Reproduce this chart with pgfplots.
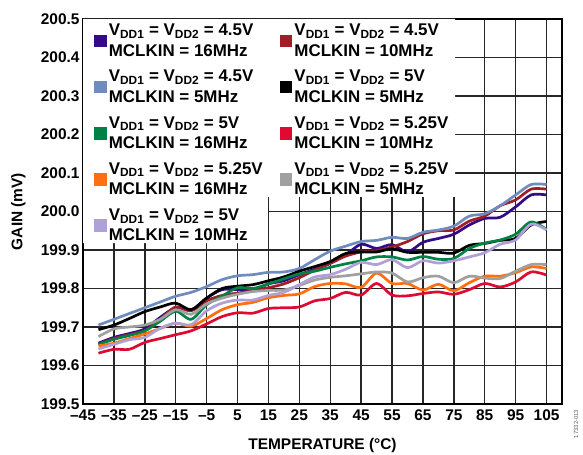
\documentclass[border=0pt]{standalone}
\usepackage{pgfplots}
\pgfplotsset{compat=1.18}
\usepackage{fontspec}
\setmainfont{Liberation Sans}

\definecolor{cIndigo}{RGB}{52,10,135}
\definecolor{cDarkRed}{RGB}{160,30,38}
\definecolor{cSteel}{RGB}{112,140,190}
\definecolor{cGreen}{RGB}{0,130,70}
\definecolor{cCrimson}{RGB}{222,10,50}
\definecolor{cOrange}{RGB}{255,110,15}
\definecolor{cGray}{RGB}{160,160,160}
\definecolor{cLav}{RGB}{175,160,215}

\newcommand{\lgfont}{\fontsize{17}{20.5}\selectfont\bfseries}
\newcommand{\vv}[2]{\lgfont V\textsubscript{DD1} = V\textsubscript{DD2} = #1\\\lgfont MCLKIN = #2}

\begin{document}
\begin{tikzpicture}
\begin{axis}[
    set layers,
    scale only axis,
    width=479bp, height=385bp,
    xmin=-45, xmax=110,
    ymin=199.5, ymax=200.5,
    xtick={-45,-35,-25,-15,-5,5,15,25,35,45,55,65,75,85,95,105},
    xticklabels={\textendash45,\textendash35,\textendash25,\textendash15,\textendash5,5,15,25,35,45,55,65,75,85,95,105},
    ytick={199.5,199.6,199.7,199.8,199.9,200.0,200.1,200.2,200.3,200.4,200.5},
    yticklabels={199.5,199.6,199.7,199.8,199.9,200.0,200.1,200.2,200.3,200.4,200.5},
    grid=major,
    grid style={black!85, line width=1.4bp},
    axis line style={black, line width=2bp},
    tick style={draw=none},
    tick label style={font=\fontsize{15.5}{17}\selectfont\bfseries},
    xticklabel style={yshift=-2bp},
    label style={font=\fontsize{15.5}{17}\selectfont\bfseries},
    xlabel={TEMPERATURE (°C)},
    ylabel={GAIN (mV)},
    xlabel style={at={(axis description cs:0.5,-0.107)}, anchor=center},
    ylabel style={at={(axis description cs:-0.135,0.5)}, anchor=center},
    legend columns=2,
    legend cell align=left,
    legend image code/.code={\fill[#1] (0bp,-5bp) rectangle (10bp,5bp);},
    legend style={at={(axis description cs:0,1)}, anchor=north west,
        xshift=8bp, yshift=-1bp,
        draw=none, fill=none,
        font=\lgfont,
        nodes={font=\lgfont, inner sep=2bp},
        cells={align=left},
        row sep=8.5bp,
        /tikz/every even column/.append style={column sep=15bp}},
    every axis plot/.append style={line width=2.7bp, smooth},
]
\fill[white] (axis cs:-45,200.5) -- (axis cs:75.4,200.5) -- (axis cs:75.4,200.038)
  -- (axis cs:14.8,200.038) -- (axis cs:14.8,199.918) -- (axis cs:-45,199.918) -- cycle;

% VDD = 4.5V, 16MHz
\addplot[color=cIndigo] coordinates {
(-40,199.658) (-35,199.673) (-30,199.683) (-25,199.695) (-20,199.725) (-15,199.750)
(-10,199.744) (-5,199.775) (0,199.797) (5,199.797) (10,199.795) (15,199.812)
(20,199.820) (25,199.836) (30,199.850) (35,199.865) (40,199.887) (45,199.915)
(50,199.904) (55,199.914) (60,199.895) (65,199.920) (70,199.930) (75,199.941)
(80,199.965) (85,199.982) (90,199.985) (95,200.012) (100,200.043) (105,200.043)};
\addlegendentry{\vv{4.5V}{16MHz}}

% 4.5V, 10MHz
\addplot[color=cDarkRed] coordinates {
(-40,199.655) (-35,199.670) (-30,199.680) (-25,199.690) (-20,199.720) (-15,199.752)
(-10,199.742) (-5,199.768) (0,199.782) (5,199.788) (10,199.794) (15,199.802)
(20,199.812) (25,199.828) (30,199.848) (35,199.866) (40,199.884) (45,199.895)
(50,199.898) (55,199.908) (60,199.922) (65,199.942) (70,199.950) (75,199.952)
(80,199.975) (85,199.988) (90,200.015) (95,200.030) (100,200.058) (105,200.058)};
\addlegendentry{\vv{4.5V}{10MHz}}

% 4.5V, 5MHz
\addplot[color=cSteel] coordinates {
(-40,199.705) (-35,199.720) (-30,199.735) (-25,199.750) (-20,199.765) (-15,199.780)
(-10,199.790) (-5,199.805) (0,199.823) (5,199.833) (10,199.836) (15,199.842)
(20,199.843) (25,199.852) (30,199.875) (35,199.897) (40,199.910) (45,199.922)
(50,199.925) (55,199.933) (60,199.930) (65,199.946) (70,199.952) (75,199.962)
(80,199.988) (85,199.994) (90,200.015) (95,200.043) (100,200.070) (105,200.070)};
\addlegendentry{\vv{4.5V}{5MHz}}

% 5V, 5MHz
\addplot[color=black] coordinates {
(-40,199.693) (-35,199.705) (-30,199.722) (-25,199.740) (-20,199.752) (-15,199.762)
(-10,199.745) (-5,199.775) (0,199.800) (5,199.806) (10,199.810) (15,199.820)
(20,199.830) (25,199.845) (30,199.857) (35,199.870) (40,199.891) (45,199.895)
(50,199.895) (55,199.903) (60,199.894) (65,199.894) (70,199.894) (75,199.892)
(80,199.912) (85,199.917) (90,199.925) (95,199.930) (100,199.965) (105,199.974)};
\addlegendentry{\vv{5V}{5MHz}}

% 5V, 16MHz
\addplot[color=cGreen] coordinates {
(-40,199.655) (-35,199.668) (-30,199.678) (-25,199.690) (-20,199.715) (-15,199.741)
(-10,199.720) (-5,199.758) (0,199.780) (5,199.802) (10,199.800) (15,199.812)
(20,199.825) (25,199.838) (30,199.845) (35,199.855) (40,199.864) (45,199.872)
(50,199.882) (55,199.882) (60,199.874) (65,199.883) (70,199.876) (75,199.878)
(80,199.904) (85,199.918) (90,199.926) (95,199.941) (100,199.973) (105,199.953)};
\addlegendentry{\vv{5V}{16MHz}}

% 5.25V, 10MHz
\addplot[color=cCrimson] coordinates {
(-40,199.632) (-35,199.642) (-30,199.642) (-25,199.660) (-20,199.670) (-15,199.680)
(-10,199.690) (-5,199.708) (0,199.727) (5,199.737) (10,199.736) (15,199.748)
(20,199.750) (25,199.752) (30,199.768) (35,199.774) (40,199.790) (45,199.783)
(50,199.813) (55,199.783) (60,199.781) (65,199.787) (70,199.791) (75,199.785)
(80,199.797) (85,199.813) (90,199.804) (95,199.817) (100,199.843) (105,199.835)};
\addlegendentry{\vv{5.25V}{10MHz}}

% 5.25V, 16MHz
\addplot[color=cOrange] coordinates {
(-40,199.651) (-35,199.658) (-30,199.670) (-25,199.682) (-20,199.696) (-15,199.710)
(-10,199.702) (-5,199.722) (0,199.745) (5,199.758) (10,199.764) (15,199.776)
(20,199.782) (25,199.786) (30,199.805) (35,199.813) (40,199.812) (45,199.803)
(50,199.840) (55,199.813) (60,199.813) (65,199.796) (70,199.811) (75,199.794)
(80,199.815) (85,199.832) (90,199.832) (95,199.841) (100,199.856) (105,199.852)};
\addlegendentry{\vv{5.25V}{16MHz}}

% 5.25V, 5MHz
\addplot[color=cGray] coordinates {
(-40,199.675) (-35,199.695) (-30,199.700) (-25,199.705) (-20,199.720) (-15,199.745)
(-10,199.733) (-5,199.760) (0,199.775) (5,199.785) (10,199.792) (15,199.795)
(20,199.796) (25,199.808) (30,199.822) (35,199.829) (40,199.833) (45,199.838)
(50,199.843) (55,199.840) (60,199.817) (65,199.828) (70,199.832) (75,199.815)
(80,199.832) (85,199.827) (90,199.826) (95,199.845) (100,199.862) (105,199.862)};
\addlegendentry{\vv{5.25V}{5MHz}}

% 5V, 10MHz
\addplot[color=cLav] coordinates {
(-40,199.643) (-35,199.655) (-30,199.667) (-25,199.673) (-20,199.697) (-15,199.710)
(-10,199.706) (-5,199.742) (0,199.762) (5,199.770) (10,199.770) (15,199.782)
(20,199.790) (25,199.810) (30,199.830) (35,199.836) (40,199.850) (45,199.868)
(50,199.862) (55,199.875) (60,199.854) (65,199.872) (70,199.866) (75,199.872)
(80,199.882) (85,199.893) (90,199.915) (95,199.926) (100,199.967) (105,199.952)};
\addlegendentry{\vv{5V}{10MHz}}
\end{axis}
\node[rotate=90, font=\fontsize{6}{6}\selectfont, text=black!60, anchor=center]
  at ([xshift=14bp, yshift=-20bp]current axis.south east) {17332-013};
\pgfresetboundingbox
\path ([xshift=-83bp,yshift=-51bp]current axis.south west)
  rectangle ([xshift=21bp,yshift=19bp]current axis.north east);
\end{tikzpicture}
\end{document}
